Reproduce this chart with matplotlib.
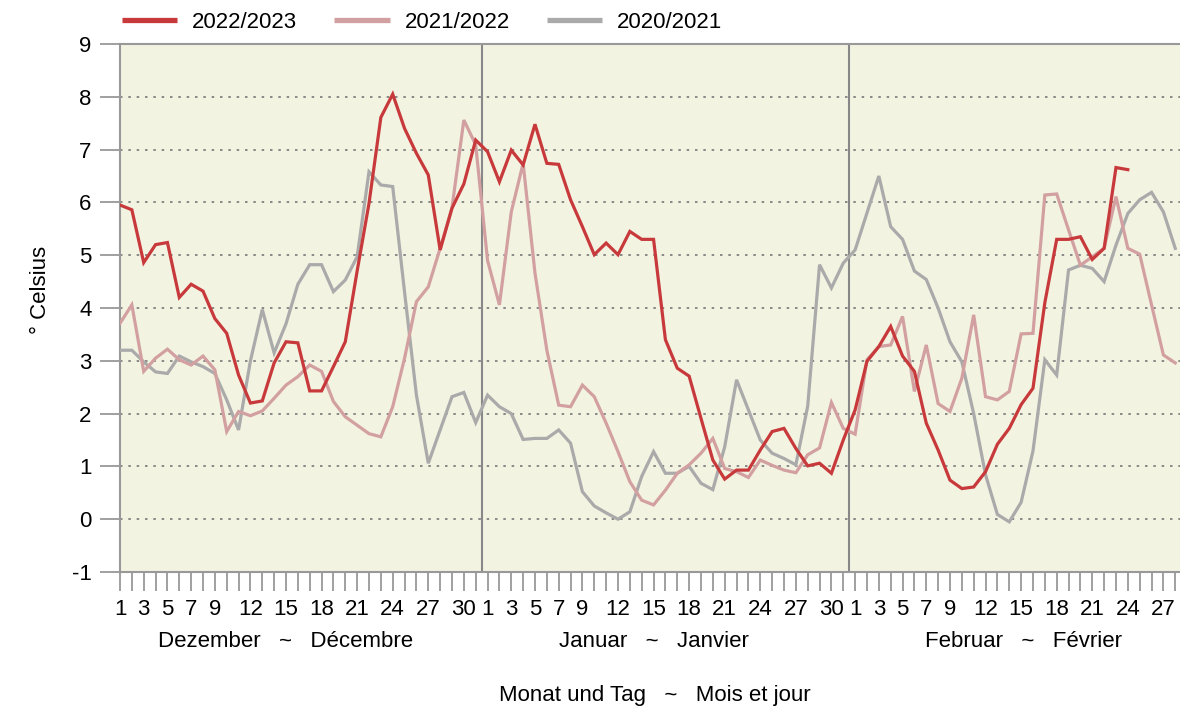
import numpy as np
import matplotlib.pyplot as plt
import matplotlib.transforms as mtransforms
from matplotlib.lines import Line2D

plt.rcParams['font.family'] = ['Liberation Sans', 'DejaVu Sans']
plt.rcParams['axes.unicode_minus'] = False

# Monate Dezember - Februar, Tagesmittel in °C
month_names = ['Dezember   ~   Décembre', 'Januar   ~   Janvier', 'Februar   ~   Février']
month_days = [31, 31, 28]
labelled_days = [1, 3, 5, 7, 9, 12, 15, 18, 21, 24, 27, 30]
series_labels = ['2022/2023', '2021/2022', '2020/2021']

t_2223 = [5.95, 5.86, 4.86, 5.20, 5.24, 4.20, 4.45, 4.32, 3.80, 3.52,
          2.73, 2.20, 2.24, 2.96, 3.36, 3.34, 2.43, 2.43, 2.89, 3.36,
          4.70, 5.98, 7.61, 8.05, 7.40, 6.93, 6.52, 5.10, 5.89, 6.35,
          7.18, 6.96, 6.39, 6.99, 6.71, 7.48, 6.74, 6.72, 6.05, 5.54,
          5.01, 5.23, 5.01, 5.45, 5.30, 5.30, 3.40, 2.86, 2.71, 1.91,
          1.12, 0.76, 0.93, 0.93, 1.31, 1.66, 1.72, 1.34, 1.01, 1.06,
          0.87, 1.50, 2.07, 2.99, 3.27, 3.65, 3.09, 2.80, 1.82, 1.31,
          0.74, 0.58, 0.61, 0.90, 1.42, 1.72, 2.17, 2.48, 4.10, 5.30,
          5.30, 5.35, 4.92, 5.13, 6.66, 6.62]

t_2122 = [3.71, 4.06, 2.80, 3.05, 3.22, 3.02, 2.92, 3.09, 2.83, 1.66,
          2.04, 1.96, 2.05, 2.29, 2.54, 2.70, 2.92, 2.80, 2.23, 1.94,
          1.78, 1.62, 1.56, 2.13, 3.05, 4.12, 4.40, 5.13, 5.90, 7.56,
          7.09, 4.90, 4.06, 5.82, 6.74, 4.66, 3.20, 2.16, 2.13, 2.54,
          2.32, 1.82, 1.28, 0.71, 0.36, 0.27, 0.55, 0.87, 1.03, 1.25,
          1.53, 0.96, 0.90, 0.79, 1.12, 1.02, 0.93, 0.88, 1.22, 1.35,
          2.21, 1.72, 1.61, 3.02, 3.27, 3.30, 3.84, 2.42, 3.30, 2.19,
          2.04, 2.67, 3.87, 2.32, 2.26, 2.42, 3.51, 3.52, 6.14, 6.16,
          5.48, 4.81, 4.97, 5.13, 6.11, 5.13, 5.02, 4.06, 3.11, 2.96]

t_2021 = [3.20, 3.20, 2.98, 2.79, 2.76, 3.09, 2.98, 2.89, 2.76, 2.26,
          1.69, 3.00, 3.97, 3.15, 3.70, 4.45, 4.82, 4.82, 4.31, 4.53,
          4.97, 6.58, 6.33, 6.30, 4.30, 2.35, 1.06, 1.69, 2.32, 2.40,
          1.83, 2.35, 2.13, 2.00, 1.51, 1.53, 1.53, 1.69, 1.44, 0.52,
          0.25, 0.12, 0.00, 0.14, 0.81, 1.28, 0.87, 0.87, 1.00, 0.68,
          0.56, 1.37, 2.64, 2.07, 1.50, 1.25, 1.15, 1.03, 2.14, 4.82,
          4.38, 4.85, 5.10, 5.80, 6.50, 5.54, 5.30, 4.70, 4.54, 4.00,
          3.36, 2.98, 2.00, 0.84, 0.09, -0.05, 0.32, 1.29, 3.02, 2.73,
          4.72, 4.81, 4.75, 4.50, 5.19, 5.79, 6.05, 6.19, 5.82, 5.13]

colors = ['#c8393c', '#d3a0a1', '#aaaaaa']
grey = '#999999'
fs = 16

fig = plt.figure(figsize=(11.8, 7.07), dpi=100)
ax = fig.add_axes([120 / 1180, 1 - 572 / 707, 1060 / 1180, 528 / 707])
ax.set_facecolor('#f3f3e2')

# Kurven (älteste unten)
for vals, col, z in zip([t_2021, t_2122, t_2223], colors[::-1], [3, 4, 5]):
    ax.plot(np.arange(len(vals)), vals, color=col, lw=2.3, zorder=z,
            solid_joinstyle='miter')

n_days = sum(month_days)
ax.set_xlim(0, n_days - 0.6)
ax.set_ylim(-1, 9)

# jeder Tag ein Strich, nur ausgewählte Tage beschriftet
tick_labels = []
for md in month_days:
    tick_labels += [str(d) if d in labelled_days else '' for d in range(1, md + 1)]
ax.set_xticks(np.arange(n_days))
ax.set_xticklabels(tick_labels)
ax.set_yticks(range(-1, 10))

ax.tick_params(axis='x', length=13.5, width=1.3, color=grey, pad=6, labelsize=fs)
ax.tick_params(axis='y', length=14.5, width=1.3, color=grey, pad=6, labelsize=fs)

for y in range(0, 9):
    ax.axhline(y, color='#777777', lw=1.2, ls=(0, (1.5, 3.5)), zorder=1)

start = 0
for md in month_days[:-1]:
    start += md
    ax.axvline(start - 0.5, color='#888888', lw=1.5, zorder=2)

for side in ['top', 'bottom', 'left']:
    ax.spines[side].set_color(grey)
    ax.spines[side].set_linewidth(1.5)
ax.spines['right'].set_visible(False)

# Monatsnamen unter den Tageszahlen
trans = mtransforms.blended_transform_factory(ax.transData, ax.transAxes)
centers = [14, 45, 76.2]
for cx, name in zip(centers, month_names):
    ax.text(cx, -0.131, name, transform=trans, ha='center', va='center', fontsize=fs)

fig.text(655 / 1180, 1 - 695 / 707, 'Monat und Tag   ~   Mois et jour',
         ha='center', va='center', fontsize=fs)
fig.text(40 / 1180, 1 - 290 / 707, '° Celsius', rotation=90,
         ha='center', va='center', fontsize=fs)

handles = [Line2D([], [], color=c, lw=3.8, solid_capstyle='butt') for c in colors]
fig.legend(handles, series_labels, loc='center left',
           bbox_to_anchor=(102 / 1180, 1 - 22 / 707), ncol=3, frameon=False,
           fontsize=fs, handlelength=2.48, handletextpad=0.68, columnspacing=1.67)

plt.savefig('out.png', dpi=100)
